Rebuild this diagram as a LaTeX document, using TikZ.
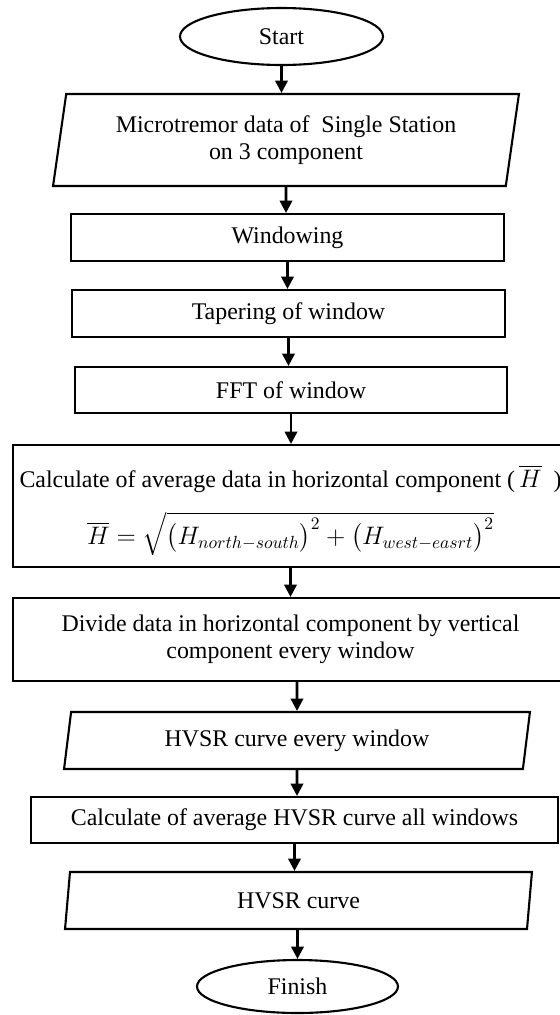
\documentclass[tikz,border=0pt]{standalone}
\usepackage{amsmath,amssymb}
\usepackage{fontspec}
\setmainfont{Liberation Serif}
\usepackage{tikz}
\usetikzlibrary{positioning}
\usetikzlibrary{shapes.geometric}
\usetikzlibrary{arrows.meta}
\tikzset{
  flow_term/.style={ellipse, draw, line width = 1.2pt, inner sep = 0},
  flow_box/.style={rectangle, draw, line width = 1.2pt, align = center, inner sep = 0},
  flow_io/.style={trapezium, trapezium stretches body, draw, line width = 1.2pt, align = center, inner sep = 0},
  arrow_flow/.style={-{Triangle[width=7pt, length=7pt]}, line width = 1.5pt, color = black}}

\begin{document}
\begin{tikzpicture}[x = 0.02cm, y = -0.02cm, font = \fontsize{13.6}{15.5}\selectfont]

\useasboundingbox (0,0) rectangle (560,1015);

% start and input
\node[flow_term, minimum width = 4.06cm, minimum height = 1.14cm] at (281.5,36.5) (start){Start};
\node[flow_io, trapezium left angle = 75, trapezium right angle = 105, minimum width = 9.32cm, minimum height = 1.84cm] at (286,140) (micro){Microtremor data of \ Single Station\\on 3 component};

% processing of the windows
\node[flow_box, minimum width = 8.66cm, minimum height = 0.94cm] at (287.5,237.5) (windowing){Windowing};
\node[flow_box, minimum width = 8.66cm, minimum height = 0.94cm] at (288.5,313.5) (taper){Tapering of window};
\node[flow_box, minimum width = 8.64cm, minimum height = 0.92cm] at (291,390) (fft){FFT of window};
\node[flow_box, minimum width = 11.1cm, minimum height = 2.44cm] at (290.5,506) (calc){\rule{0pt}{18pt}Calculate of average data in horizontal component (\,$\overline{H}$\ \ )\\[10pt]
  $\overline{H}=\sqrt{\bigl(H_{north-south}\bigr)^{2}+\bigl(H_{west-easrt}\bigr)^{2}}$};
\node[flow_box, minimum width = 11.1cm, minimum height = 1.66cm] at (290.5,639.5) (divide){Divide data in horizontal component by vertical\\component every window};

% output
\node[flow_io, trapezium left angle = 72, trapezium right angle = 108, minimum width = 9.32cm, minimum height = 1.14cm] at (297,740.5) (hvsr_win){HVSR curve every window};
\node[flow_box, minimum width = 10.54cm, minimum height = 0.92cm] at (294.5,820) (average){Calculate of average HVSR curve all windows};
\node[flow_io, trapezium left angle = 73, trapezium right angle = 107, minimum width = 9.34cm, minimum height = 1.14cm] at (298.5,900.5) (hvsr){HVSR curve};
\node[flow_term, minimum width = 4.02cm, minimum height = 1.06cm] at (297.5,986.5) (finish){Finish};

%%% arrows
\draw[arrow_flow] (start) -- (start |- micro.north);
\draw[arrow_flow] (micro) -- (micro |- windowing.north);
\draw[arrow_flow] (windowing) -- (windowing |- taper.north);
\draw[arrow_flow] (taper) -- (taper |- fft.north);
\draw[arrow_flow] (fft) -- (fft |- calc.north);
\draw[arrow_flow] (calc) -- (calc |- divide.north);
\draw[arrow_flow] (divide.south -| hvsr_win) -- (hvsr_win.north);
\draw[arrow_flow] (hvsr_win) -- (hvsr_win |- average.north);
\draw[arrow_flow] (average) -- (average |- hvsr.north);
\draw[arrow_flow] (hvsr.south -| finish) -- (finish.north);

\end{tikzpicture}
\end{document}
